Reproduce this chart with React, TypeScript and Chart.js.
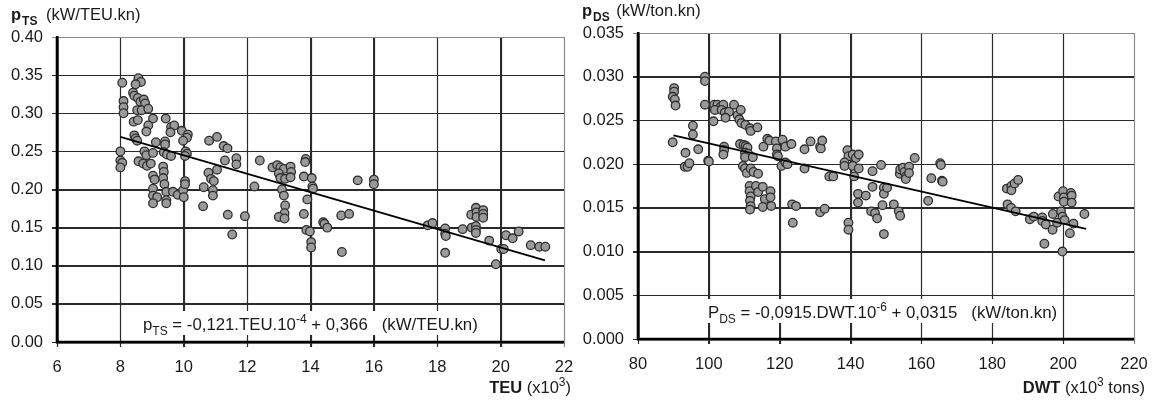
import React, { useEffect, useRef } from 'react';
import { Chart, registerables } from 'chart.js';

Chart.register(...registerables);

const FONT = '"Liberation Sans", Arial, sans-serif';

// ---------- Left chart data (TEU x10^3 vs p_TS) ----------
const teuX = [
  8.06, 8.1, 8.1, 8.1, 8.0, 8.0, 8.06, 8.0, 8.57, 8.65, 8.48, 8.4, 8.44, 8.55, 8.63, 8.74, 8.78, 8.53, 8.67, 8.88,
  8.42, 8.55, 9.03, 8.88, 8.82, 8.44, 8.48, 8.53, 8.76, 8.82, 9.03, 8.57, 8.72, 8.84, 8.96, 9.12, 9.41, 9.41, 9.43, 9.6,
  9.7, 9.58, 9.37, 9.47, 9.6, 9.35, 9.37, 9.03, 9.08, 9.35, 9.03, 9.03, 9.16, 9.03, 9.39, 9.45, 9.45, 9.45, 9.66, 9.81,
  9.98, 10.0, 10.04, 10.04, 9.94, 10.13, 10.1, 9.98, 10.06, 10.1, 10.04, 10.8, 11.05, 11.26, 11.38, 11.3, 11.66, 11.66, 11.05, 10.78,
  10.86, 10.95, 10.63, 10.92, 10.92, 10.61, 11.39, 11.93, 11.53, 12.23, 12.4, 12.8, 12.95, 13.05, 13.16, 13.37, 13.39, 13.0, 13.05, 13.2,
  13.37, 13.1, 13.16, 13.2, 13.18, 13.0, 13.18, 13.85, 13.83, 13.79, 14.04, 14.06, 14.08, 13.9, 13.79, 13.87, 13.98, 14.02, 14.02, 14.4,
  14.44, 14.53, 14.97, 15.22, 14.99, 15.49, 16.0, 16.0, 17.7, 17.85, 18.25, 18.25, 18.27, 18.25, 18.8, 19.07, 19.22, 19.24, 19.24, 19.45,
  19.45, 19.45, 19.09, 19.22, 19.22, 19.22, 19.64, 19.85, 20.02, 20.1, 20.17, 20.38, 20.57, 20.95, 21.22, 21.41,
];
const teuP = [
  0.34, 0.316, 0.308, 0.3, 0.25, 0.238, 0.235, 0.229, 0.346, 0.341, 0.338, 0.327, 0.323, 0.32, 0.315, 0.318, 0.313, 0.304, 0.304, 0.306,
  0.289, 0.291, 0.293, 0.284, 0.276, 0.271, 0.267, 0.264, 0.25, 0.245, 0.248, 0.237, 0.234, 0.231, 0.234, 0.262, 0.263, 0.259, 0.293, 0.282,
  0.284, 0.275, 0.249, 0.246, 0.244, 0.23, 0.223, 0.218, 0.213, 0.215, 0.201, 0.192, 0.19, 0.182, 0.207, 0.197, 0.186, 0.182, 0.197, 0.193,
  0.199, 0.19, 0.211, 0.207, 0.277, 0.272, 0.268, 0.264, 0.25, 0.247, 0.244, 0.264, 0.269, 0.257, 0.254, 0.238, 0.241, 0.233, 0.226, 0.222,
  0.214, 0.211, 0.203, 0.199, 0.192, 0.178, 0.167, 0.165, 0.141, 0.204, 0.238, 0.229, 0.232, 0.229, 0.227, 0.23, 0.223, 0.221, 0.215, 0.214,
  0.216, 0.2, 0.192, 0.179, 0.169, 0.164, 0.162, 0.24, 0.236, 0.217, 0.215, 0.204, 0.201, 0.187, 0.168, 0.147, 0.145, 0.131, 0.124, 0.157,
  0.155, 0.15, 0.166, 0.168, 0.118, 0.212, 0.213, 0.207, 0.153, 0.156, 0.149, 0.142, 0.139, 0.117, 0.148, 0.167, 0.176, 0.17, 0.164, 0.173,
  0.168, 0.163, 0.15, 0.152, 0.147, 0.143, 0.133, 0.102, 0.122, 0.122, 0.14, 0.136, 0.145, 0.127, 0.125, 0.125,
];
const teuFitX = [8, 21.4];
const teuFitP = [0.269, 0.107];
const teuTicks = { min: 6, max: 22, step: 2 };
const pTsTicks = { min: 0, max: 0.4, step: 0.05 };

// ---------- Right chart data (DWT x10^3 tons vs p_DS) ----------
const dwtX = [
  90.2, 90.2, 89.8, 90.4, 90.6, 89.8, 93.2, 94.0, 94.5, 93.4, 95.5, 95.5, 97.0, 98.9, 98.9, 98.9, 99.8, 100.0, 101.3, 101.5,
  102.4, 103.4, 104.1, 101.7, 103.6, 104.5, 105.7, 104.7, 107.1, 108.1, 109.0, 108.6, 109.2, 110.3, 111.6, 111.8, 113.7, 104.3, 104.3, 104.1,
  108.8, 109.8, 110.4, 110.9, 110.2, 111.1, 110.2, 112.4, 109.6, 110.2, 110.7, 111.8, 112.6, 113.9, 111.5, 111.5, 111.8, 111.6, 111.8, 111.6,
  113.3, 113.9, 115.2, 115.8, 115.2, 117.4, 117.4, 117.6, 115.4, 116.5, 117.1, 118.9, 119.2, 119.2, 119.5, 120.8, 121.6, 123.3, 120.5, 121.6,
  122.2, 123.5, 124.6, 123.7, 127.0, 127.0, 128.7, 131.4, 131.6, 132.0, 131.4, 132.7, 134.0, 135.1, 139.1, 139.4, 140.6, 138.3, 138.3, 141.5,
  142.3, 140.6, 142.3, 141.0, 139.4, 139.4, 142.1, 142.1, 144.3, 146.2, 146.2, 148.6, 149.4, 149.4, 150.3, 145.8, 146.9, 147.5, 149.0, 149.4,
  152.2, 153.6, 153.9, 154.0, 154.0, 154.8, 155.2, 155.6, 155.6, 156.5, 156.5, 158.1, 162.8, 161.9, 165.3, 165.5, 165.8, 166.0, 184.1, 185.4,
  185.4, 186.3, 187.3, 184.3, 185.3, 186.6, 190.6, 191.7, 194.1, 194.1, 195.1, 197.1, 197.0, 194.7, 198.7, 200.0, 200.2, 200.2, 202.2, 202.4,
  202.4, 199.4, 199.8, 198.3, 200.4, 202.9, 201.9, 199.8, 206.0,
];
const dwtP = [
  0.0287, 0.0283, 0.0277, 0.0274, 0.0267, 0.0225, 0.0197, 0.0197, 0.0201, 0.0213, 0.0234, 0.0244, 0.0217, 0.03, 0.0295, 0.0268, 0.0204, 0.0203, 0.0249, 0.0268,
  0.0268, 0.0266, 0.0268, 0.0262, 0.0262, 0.0259, 0.026, 0.0253, 0.0268, 0.0256, 0.0262, 0.0251, 0.0247, 0.0245, 0.0241, 0.0238, 0.0242, 0.022, 0.0216, 0.0211,
  0.0223, 0.0222, 0.0221, 0.0219, 0.0213, 0.0212, 0.0208, 0.0208, 0.0198, 0.0195, 0.019, 0.0195, 0.0191, 0.0189, 0.0175, 0.0169, 0.0163, 0.0158, 0.0152, 0.0148,
  0.0175, 0.0168, 0.0174, 0.016, 0.0151, 0.0169, 0.0162, 0.0152, 0.022, 0.0229, 0.0227, 0.0226, 0.0218, 0.0211, 0.0209, 0.0228, 0.022, 0.0223, 0.0198, 0.0202,
  0.02, 0.0154, 0.0152, 0.0133, 0.0195, 0.0217, 0.0226, 0.022, 0.0218, 0.0227, 0.0145, 0.0149, 0.0186, 0.0186, 0.0216, 0.0209, 0.0211, 0.0202, 0.0198, 0.0207,
  0.0211, 0.0198, 0.0195, 0.0186, 0.0133, 0.0125, 0.0166, 0.0156, 0.0164, 0.0174, 0.0192, 0.0199, 0.0173, 0.0166, 0.0173, 0.0146, 0.0144, 0.0138, 0.0153, 0.012,
  0.0154, 0.0146, 0.0189, 0.0141, 0.0194, 0.0196, 0.0191, 0.0186, 0.0183, 0.0197, 0.019, 0.0207, 0.0184, 0.0158, 0.0201, 0.0199, 0.0181, 0.018, 0.0172, 0.0175,
  0.017, 0.0178, 0.0182, 0.0154, 0.015, 0.0146, 0.0137, 0.014, 0.0139, 0.0135, 0.0131, 0.0143, 0.0125, 0.0109, 0.0163, 0.0169, 0.0162, 0.0157, 0.0167, 0.0164,
  0.0156, 0.0146, 0.014, 0.0133, 0.0136, 0.0132, 0.0121, 0.01, 0.0143,
];
const dwtFitX = [90, 206.5];
const dwtFitP = [0.0233, 0.0126];
const dwtTicks = { min: 80, max: 220, step: 20 };
const pDsTicks = { min: 0, max: 0.035, step: 0.005 };

// ---------- Rich text helper ----------
type Seg = { t: string; b?: boolean; sub?: boolean; sup?: boolean; dx?: number };

function segFont(s: Seg, size: number) {
  const sz = s.sub || s.sup ? Math.round(size * 0.7) : size;
  return `${s.b ? 'bold ' : ''}${sz}px ${FONT}`;
}

function richWidth(ctx: CanvasRenderingContext2D, segs: Seg[], size: number) {
  let w = 0;
  for (const s of segs) {
    ctx.font = segFont(s, size);
    w += ctx.measureText(s.t).width + (s.dx || 0);
  }
  return w;
}

function drawRich(
  ctx: CanvasRenderingContext2D,
  segs: Seg[],
  x: number,
  y: number,
  size: number,
  align: 'left' | 'right' = 'left',
  color = '#1a1a1a'
) {
  const w = richWidth(ctx, segs, size);
  let cx = align === 'right' ? x - w : x;
  ctx.save();
  ctx.fillStyle = color;
  ctx.textBaseline = 'alphabetic';
  ctx.textAlign = 'left';
  for (const s of segs) {
    ctx.font = segFont(s, size);
    cx += s.dx || 0;
    const dy = s.sub ? size * 0.28 : s.sup ? -size * 0.42 : 0;
    ctx.fillText(s.t, cx, y + dy);
    cx += ctx.measureText(s.t).width;
  }
  ctx.restore();
  return w;
}

type Cfg = {
  xs: number[];
  ys: number[];
  fitX: number[];
  fitY: number[];
  xr: { min: number; max: number; step: number };
  yr: { min: number; max: number; step: number };
  dec: number;
  yAxisW: number;
  xAxisH: number;
  padTop: number;
  padRight: number;
  yTitle: Seg[];
  yTitlePos: [number, number];
  xTitle: Seg[];
  xTitlePos: [number, number];
  eq: Seg[];
  eqPos: [number, number];
};

const leftCfg: Cfg = {
  xs: teuX,
  ys: teuP,
  fitX: teuFitX,
  fitY: teuFitP,
  xr: teuTicks,
  yr: pTsTicks,
  dec: 2,
  yAxisW: 57,
  xAxisH: 58,
  padTop: 37,
  padRight: 12,
  yTitle: [{ t: 'p', b: true }, { t: 'TS', b: true, sub: true, dx: 1 }, { t: ' (kW/TEU.kn)', dx: 4 }],
  yTitlePos: [11, 20],
  xTitle: [{ t: 'TEU', b: true }, { t: ' (x10' }, { t: '3', sup: true }, { t: ')' }],
  xTitlePos: [571, 393],
  eq: [
    { t: 'p' },
    { t: 'TS', sub: true },
    { t: ' = -0,121.TEU.10' },
    { t: '-4', sup: true },
    { t: ' + 0,366   (kW/TEU.kn)' },
  ],
  eqPos: [143, 330],
};

const rightCfg: Cfg = {
  xs: dwtX,
  ys: dwtP,
  fitX: dwtFitX,
  fitY: dwtFitP,
  xr: dwtTicks,
  yr: pDsTicks,
  dec: 3,
  yAxisW: 62,
  xAxisH: 61,
  padTop: 33,
  padRight: 18,
  yTitle: [{ t: 'p', b: true }, { t: 'DS', b: true, sub: true, dx: 1 }, { t: ' (kW/ton.kn)', dx: 2 }],
  yTitlePos: [6, 16],
  xTitle: [{ t: 'DWT', b: true }, { t: ' (x10' }, { t: '3', sup: true }, { t: ' tons)' }],
  xTitlePos: [569, 393],
  eq: [
    { t: 'P' },
    { t: 'DS', sub: true },
    { t: ' = -0,0915.DWT.10' },
    { t: '-6', sup: true },
    { t: ' + 0,0315   (kW/ton.kn)' },
  ],
  eqPos: [132, 318],
};

const GRID = '#2a2a2a';
const EDGE = '#8a8a8a';

function build(canvas: HTMLCanvasElement, c: Cfg) {
  const textPlugin = {
    id: 'texts' + Math.random(),
    beforeDatasetsDraw(chart: any) {
      const ctx: CanvasRenderingContext2D = chart.ctx;
      const xs = chart.scales.x;
      const ys = chart.scales.y;
      const area = chart.chartArea;
      ctx.save();
      // grid lines, positioned through the library's own scales
      for (const t of xs.ticks) {
        const px = Math.round(xs.getPixelForValue(t.value)) + 0.5;
        ctx.strokeStyle = Math.abs(t.value - c.xr.max) < 1e-9 ? EDGE : GRID;
        ctx.lineWidth = 1.2;
        ctx.beginPath();
        ctx.moveTo(px, area.top);
        ctx.lineTo(px, area.bottom + 5);
        ctx.stroke();
      }
      for (const t of ys.ticks) {
        const py = Math.round(ys.getPixelForValue(t.value)) + 0.5;
        ctx.strokeStyle = Math.abs(t.value - c.yr.max) < 1e-9 ? EDGE : GRID;
        ctx.lineWidth = 1.2;
        ctx.beginPath();
        ctx.moveTo(area.left - 5, py);
        ctx.lineTo(area.right, py);
        ctx.stroke();
      }
      // axis lines
      ctx.strokeStyle = '#000000';
      ctx.lineWidth = 2.6;
      ctx.beginPath();
      ctx.moveTo(area.left, area.top);
      ctx.lineTo(area.left, area.bottom);
      ctx.lineTo(area.right, area.bottom);
      ctx.stroke();
      ctx.restore();

      const size = 16.8;
      const w = richWidth(ctx, c.eq, size);
      ctx.save();
      ctx.fillStyle = '#ffffff';
      ctx.fillRect(c.eqPos[0] - 3, c.eqPos[1] - 19, w + 6, 24);
      ctx.restore();
      drawRich(ctx, c.eq, c.eqPos[0], c.eqPos[1], size);
    },
    afterDraw(chart: any) {
      const ctx: CanvasRenderingContext2D = chart.ctx;
      drawRich(ctx, c.yTitle, c.yTitlePos[0], c.yTitlePos[1], 16.5);
      drawRich(ctx, c.xTitle, c.xTitlePos[0], c.xTitlePos[1], 16.5, 'right');
    },
  };

  const tickFont = { family: FONT, size: 16.5 };

  return new Chart(canvas, {
    type: 'scatter',
    data: {
      datasets: [
        {
          type: 'line',
          data: c.fitX.map((x, i) => ({ x, y: c.fitY[i] })),
          borderColor: '#000000',
          borderWidth: 1.8,
          pointRadius: 0,
          fill: false,
          tension: 0,
        } as any,
        {
          data: c.xs.map((x, i) => ({ x, y: c.ys[i] })),
          pointRadius: 4.3,
          pointBorderWidth: 1.3,
          pointBackgroundColor: '#9a9a9a',
          pointBorderColor: '#2e2e2e',
          pointHoverRadius: 4.3,
        },
      ],
    },
    options: {
      animation: false,
      responsive: true,
      maintainAspectRatio: false,
      events: [],
      layout: { padding: { top: c.padTop, right: c.padRight, left: 0, bottom: 0 } },
      plugins: { legend: { display: false }, tooltip: { enabled: false } },
      scales: {
        x: {
          type: 'linear',
          min: c.xr.min,
          max: c.xr.max,
          ticks: {
            stepSize: c.xr.step,
            autoSkip: false,
            maxRotation: 0,
            font: tickFont,
            color: '#1a1a1a',
            padding: 11,
          },
          grid: { color: GRID, lineWidth: 1, tickLength: 5, drawTicks: true, tickColor: GRID },
          border: { display: true, color: '#000000', width: 2.6 },
          afterFit: (s: any) => {
            s.height = c.xAxisH;
            s.paddingLeft = 0;
            s.paddingRight = 0;
          },
        },
        y: {
          type: 'linear',
          min: c.yr.min,
          max: c.yr.max,
          ticks: {
            stepSize: c.yr.step,
            autoSkip: false,
            font: tickFont,
            color: '#1a1a1a',
            padding: 9,
            callback: (v: any) => Number(v).toFixed(c.dec),
          },
          grid: { color: GRID, lineWidth: 1, tickLength: 5, drawTicks: true, tickColor: GRID },
          border: { display: true, color: '#000000', width: 2.6 },
          afterFit: (s: any) => {
            s.width = c.yAxisW;
            s.paddingTop = 0;
            s.paddingBottom = 0;
          },
        },
      },
    },
    plugins: [textPlugin],
  } as any);
}

export default function App() {
  const leftRef = useRef<HTMLCanvasElement>(null);
  const rightRef = useRef<HTMLCanvasElement>(null);

  useEffect(() => {
    const a = build(leftRef.current as HTMLCanvasElement, leftCfg);
    const b = build(rightRef.current as HTMLCanvasElement, rightCfg);
    return () => {
      a.destroy();
      b.destroy();
    };
  }, []);

  return (
    <div style={{ position: 'fixed', left: 0, top: 0, width: 1152, height: 400, background: '#ffffff' }}>
      <div style={{ position: 'absolute', left: 0, top: 0, width: 576, height: 400 }}>
        <canvas ref={leftRef} />
      </div>
      <div style={{ position: 'absolute', left: 576, top: 0, width: 576, height: 400 }}>
        <canvas ref={rightRef} />
      </div>
    </div>
  );
}
